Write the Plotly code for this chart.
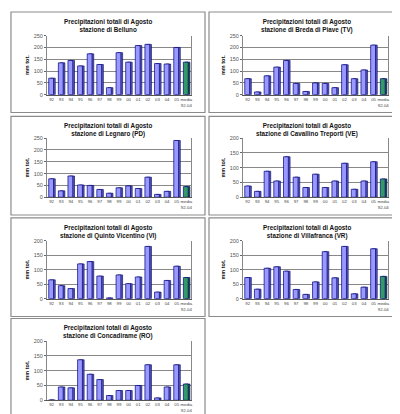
import plotly.graph_objects as go

years = ["92", "93", "94", "95", "96", "97", "98", "99", "00", "01", "02", "03", "04", "05"]
media_label = "media<br>92-04"

stations = [
    "stazione di Belluno",
    "stazione di Breda di Piave (TV)",
    "stazione di Legnaro (PD)",
    "stazione di Cavallino Treporti (VE)",
    "stazione di Quinto Vicentino (VI)",
    "stazione di Villafranca (VR)",
    "stazione di Concadirame (RO)",
]

belluno = [70, 135, 145, 122, 173, 128, 30, 178, 138, 208, 213, 132, 130, 200]
breda = [68, 12, 80, 117, 145, 48, 14, 50, 48, 30, 127, 68, 105, 210]
legnaro = [78, 27, 90, 52, 50, 33, 17, 40, 48, 37, 85, 12, 25, 240]
cavallino = [38, 20, 88, 55, 137, 68, 33, 78, 33, 55, 115, 27, 55, 120]
quinto = [65, 45, 35, 120, 128, 78, 3, 82, 52, 75, 180, 23, 63, 112]
villafranca = [73, 33, 105, 110, 95, 32, 15, 58, 162, 72, 180, 17, 40, 172]
concadirame = [1, 45, 42, 137, 88, 70, 16, 33, 33, 50, 120, 8, 45, 120]

media = [138, 68, 45, 62, 73, 77, 55]
y_max = [250, 250, 250, 200, 200, 200, 200]

series = [belluno, breda, legnaro, cavallino, quinto, villafranca, concadirame]

W, H = 400, 414
col_frame = [(3, 198), (202, 398)]
col_plot = [(39, 184), (236, 382)]
row_frame = [(1, 103), (107, 207), (210, 310), (312, 412)]
row_plot = [(25, 85), (129, 189), (233, 292), (335, 395)]


def fx(px):
    return px / W


def fy(py):
    return 1 - py / H


fig = go.Figure()
layout = dict(
    width=W, height=H, margin=dict(l=0, r=0, t=0, b=0),
    paper_bgcolor="white", plot_bgcolor="white", showlegend=False,
    barmode="overlay", font=dict(family="Arial, Liberation Sans, sans-serif", color="#333"),
)
shapes = []
annotations = []

for i, (name, vals) in enumerate(zip(stations, series)):
    r, c = divmod(i, 2)
    n = "" if i == 0 else str(i + 1)
    xa, ya = "x" + n, "y" + n
    cats = years + [media_label]
    # depth (3D side) traces
    fig.add_trace(go.Bar(
        x=cats, y=vals + [media[i]], xaxis=xa, yaxis=ya, width=0.5, offset=-0.12,
        marker=dict(color=["#5a5ab0"] * 14 + ["#1f5f3a"], line=dict(color="#000060", width=0.6)),
        hoverinfo="skip"))
    fig.add_trace(go.Bar(
        x=cats, y=vals + [media[i]], xaxis=xa, yaxis=ya, width=0.5, offset=-0.3,
        marker=dict(color=["#9999FF"] * 14 + ["#339966"], line=dict(color="#000080", width=0.7))))
    (fx0, fx1), (fy0, fy1) = col_frame[c], row_frame[r]
    (px0, px1), (py0, py1) = col_plot[c], row_plot[r]
    layout["xaxis" + n] = dict(
        domain=[fx(px0), fx(px1)], anchor=ya, type="category",
        tickfont=dict(size=4.3, color="#444"), ticks="", showgrid=False,
        showline=True, linecolor="#555", linewidth=1, tickangle=0,
        categoryorder="array", categoryarray=cats)
    layout["yaxis" + n] = dict(
        domain=[fy(py1), fy(py0)], anchor=xa, range=[0, y_max[i]], dtick=50,
        tickfont=dict(size=5.5, color="#555"), ticks="outside", ticklen=2, tickcolor="#666",
        showgrid=True, gridcolor="#888", gridwidth=0.7,
        showline=True, linecolor="#888", linewidth=0.7, mirror=True, zeroline=False)
    shapes.append(dict(type="rect", xref="paper", yref="paper",
                       x0=fx(fx0), x1=fx(fx1), y0=fy(fy1), y1=fy(fy0),
                       line=dict(color="#8c8c8c", width=1.2)))
    annotations.append(dict(
        xref="paper", yref="paper", x=fx((fx0 + fx1) / 2), y=fy(fy0 + 14),
        text="<b>Precipitazioni totali di Agosto</b><br><b>" + name + "</b>",
        showarrow=False, font=dict(size=6.3, color="#111"), xanchor="center", yanchor="middle"))
    annotations.append(dict(
        xref="paper", yref="paper", x=fx(px0 - 20), y=fy((py0 + py1) / 2),
        text="<b>mm tot.</b>", textangle=-90, showarrow=False,
        font=dict(size=5.5, color="#111"), xanchor="center", yanchor="middle"))

layout["shapes"] = shapes
layout["annotations"] = annotations
fig.update_layout(**layout)
fig.write_html("out.html")
